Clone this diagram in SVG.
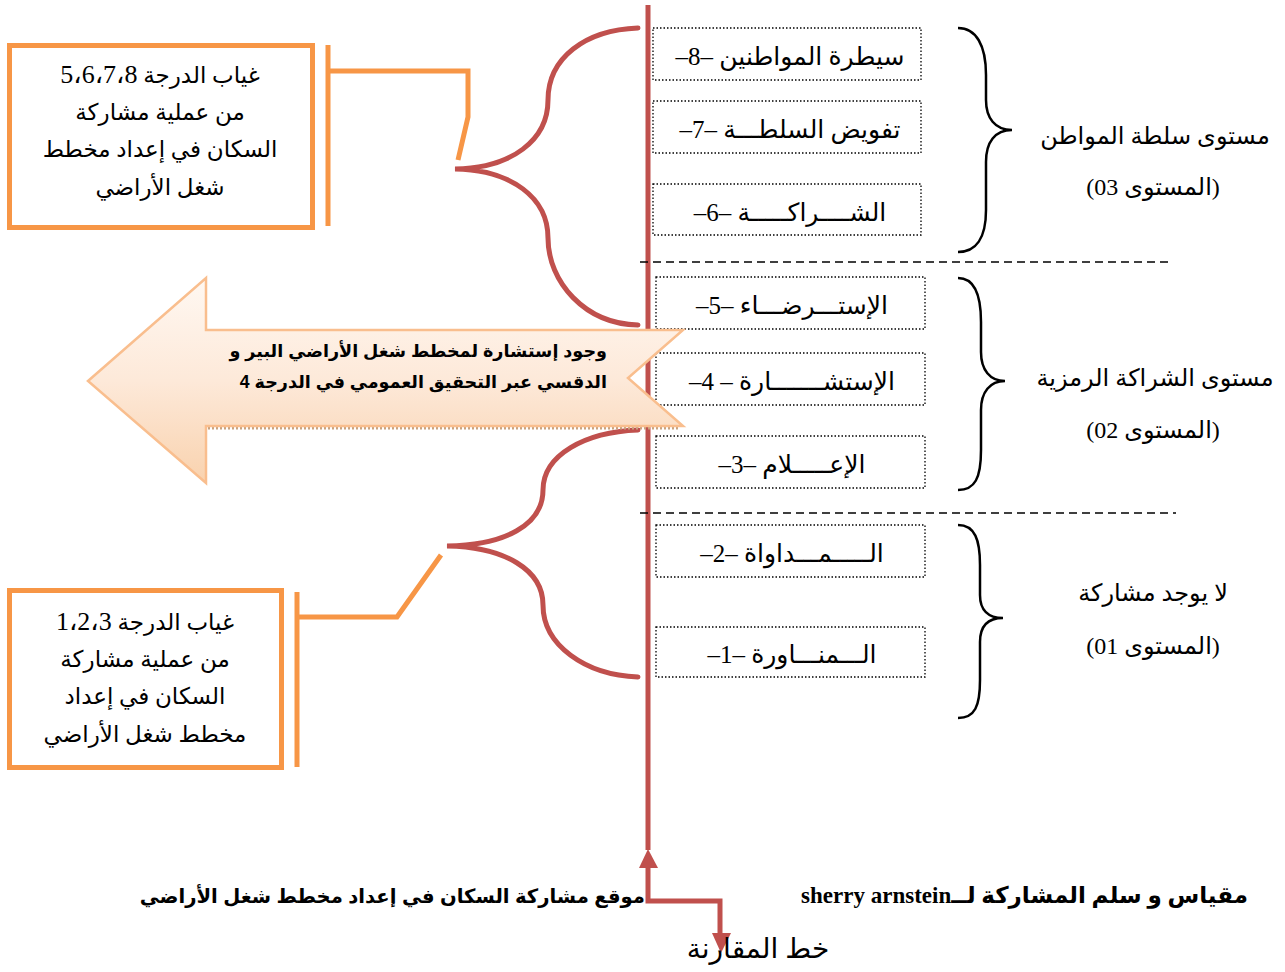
<svg xmlns="http://www.w3.org/2000/svg" width="1285" height="972" viewBox="0 0 1285 972">
  <defs>
    <linearGradient id="arrowFill" x1="0" y1="0" x2="0" y2="1">
      <stop offset="0" stop-color="#FFF8F2"/>
      <stop offset="0.5" stop-color="#FDE9D9"/>
      <stop offset="1" stop-color="#F9D2AE"/>
    </linearGradient>
    <style>
      .rung { fill: none; stroke: #000; stroke-width: 1.3; stroke-dasharray: 1.5 2; }
      .rungText { font-family: "Liberation Serif", "DejaVu Sans", serif; font-size: 25px; fill: #000; direction: rtl; unicode-bidi: embed; text-anchor: middle; }
      .note { font-family: "Liberation Serif", "DejaVu Sans", serif; font-size: 23px; fill: #000; direction: rtl; unicode-bidi: embed; text-anchor: middle; }
      .num { font-size: 26px; }
      .level { font-family: "Liberation Serif", "DejaVu Sans", serif; font-size: 24px; fill: #000; direction: rtl; unicode-bidi: embed; text-anchor: middle; }
      .bold { font-family: "Liberation Sans", "DejaVu Sans", sans-serif; font-weight: bold; font-size: 17.6px; fill: #000; direction: rtl; unicode-bidi: embed; }
      .caption { font-family: "Liberation Sans", "DejaVu Sans", sans-serif; font-weight: bold; font-size: 19.6px; fill: #000; direction: rtl; unicode-bidi: embed; }
      .captionSerif { font-family: "Liberation Serif", "DejaVu Sans", serif; font-weight: bold; font-size: 23px; fill: #000; direction: rtl; unicode-bidi: embed; }
      .redBrace { fill: none; stroke: #C0504D; stroke-width: 5; stroke-linecap: round; }
      .blackBrace { fill: none; stroke: #000; stroke-width: 2.5; }
      .orange { fill: none; stroke: #F79646; stroke-width: 5; }
      .sep { stroke: #000; stroke-width: 1.5; stroke-dasharray: 8 5; }
    </style>
  </defs>

  <!-- connectors: main axis, comparison line, brackets and leaders -->
  <g id="connectors">
    <line x1="648" y1="5" x2="648" y2="850" stroke="#C0504D" stroke-width="5"/>
    <polyline points="648,866 648,901 720,901 720,935" fill="none" stroke="#C0504D" stroke-width="5"/>
    <polygon points="648,849 639,868 658,868" fill="#C0504D"/>
    <polygon points="721,953 712,933 731,933" fill="#C0504D"/>

    <path class="redBrace" d="M638,28 C585,30 548,58 548,100 C548,140 512,168 455,169 C512,170 548,198 548,238 C548,282 585,324 638,325"/>
    <path class="redBrace" d="M638,430 C585,432 543,455 543,490 C543,525 505,545 447,546 C505,547 543,570 543,605 C543,645 585,675 638,677"/>

    <polyline class="orange" points="329,71 468,71 468,117 458,160"/>
    <line class="orange" x1="328" y1="45" x2="328" y2="226"/>
    <polyline class="orange" points="297,617 397,617 441,555"/>
    <line class="orange" x1="297" y1="592" x2="297" y2="767"/>

    <line class="sep" x1="640" y1="262" x2="1172" y2="262"/>
    <line class="sep" x1="640" y1="513" x2="1176" y2="513"/>

    <path class="blackBrace" d="M958,28 C976,28 986,45 986,75 L986,100 C986,118 995,130 1012,130 C995,130 986,142 986,162 L986,210 C986,238 976,252 958,252"/>
    <path class="blackBrace" d="M958,278 C975,278 981,295 981,322 L981,352 C981,370 990,381 1005,381 C990,381 981,392 981,410 L981,450 C981,478 975,490 958,490"/>
    <path class="blackBrace" d="M958,525 C975,525 980,540 980,565 L980,595 C980,610 988,618 1003,618 C988,618 980,626 980,642 L980,680 C980,706 975,718 958,718"/>
  </g>

  <!-- ladder rungs -->
  <g id="rung8"><rect class="rung" x="653" y="28" width="268" height="52"/><text class="rungText" x="790" y="65">سيطرة المواطنين –8–</text></g>
  <g id="rung7"><rect class="rung" x="653" y="101" width="268" height="52"/><text class="rungText" x="790" y="138">تفويض السلطـــة –7–</text></g>
  <g id="rung6"><rect class="rung" x="653" y="184" width="268" height="51"/><text class="rungText" x="790" y="221">الشــــراكـــــة –6–</text></g>
  <g id="rung5"><rect class="rung" x="656" y="277" width="269" height="52"/><text class="rungText" x="792" y="314">الإستـــرضـــاء –5–</text></g>
  <g id="rung4"><rect class="rung" x="656" y="353" width="269" height="52"/><text class="rungText" x="792" y="390">الإستشـــــــارة – 4–</text></g>
  <g id="rung3"><rect class="rung" x="656" y="436" width="269" height="52"/><text class="rungText" x="792" y="473">الإعـــــلام –3–</text></g>
  <g id="rung2"><rect class="rung" x="656" y="525" width="269" height="52"/><text class="rungText" x="792" y="562">الـــــمـــداواة –2–</text></g>
  <g id="rung1"><rect class="rung" x="656" y="627" width="269" height="50"/><text class="rungText" x="792" y="663">الـــمنـــاورة –1–</text></g>

  <!-- level labels -->
  <g id="level3">
    <text class="level" x="1155" y="144">مستوى سلطة المواطن</text>
    <text class="level" x="1153" y="195">(المستوى 03)</text>
  </g>
  <g id="level2">
    <text class="level" x="1155" y="386">مستوى الشراكة الرمزية</text>
    <text class="level" x="1153" y="438">(المستوى 02)</text>
  </g>
  <g id="level1">
    <text class="level" x="1153" y="601">لا يوجد مشاركة</text>
    <text class="level" x="1153" y="654">(المستوى 01)</text>
  </g>

  <!-- upper note box -->
  <g id="noteUpper">
    <rect x="9.5" y="45.5" width="303" height="182" fill="#fff" stroke="#F79646" stroke-width="5"/>
    <text class="note" x="160" y="83">غياب الدرجة <tspan class="num">5،6،7،8</tspan></text>
    <text class="note" x="160" y="120">من عملية  مشاركة</text>
    <text class="note" x="160" y="157">السكان في إعداد مخطط</text>
    <text class="note" x="160" y="195">شغل  الأراضي</text>
  </g>

  <!-- lower note box -->
  <g id="noteLower">
    <rect x="9.5" y="590.5" width="272" height="177" fill="#fff" stroke="#F79646" stroke-width="5"/>
    <text class="note" x="145" y="630">غياب الدرجة <tspan class="num">1،2،3</tspan></text>
    <text class="note" x="145" y="667">من عملية  مشاركة</text>
    <text class="note" x="145" y="704">السكان في إعداد</text>
    <text class="note" x="145" y="742">مخطط شغل الأراضي</text>
  </g>

  <!-- consultation arrow -->
  <g id="consultArrow">
    <line x1="208" y1="428" x2="678" y2="428" stroke="#C9A27E" stroke-width="3" stroke-dasharray="2 2"/>
    <path d="M88,381 L206,278 L206,330 L683,330 L628,378 L683,426 L206,426 L206,483 Z" fill="url(#arrowFill)" stroke="#F9BE8E" stroke-width="2.5" stroke-linejoin="miter"/>
    <text class="bold" x="607" y="357" text-anchor="start">وجود إستشارة لمخطط شغل الأراضي البير و</text>
    <text class="bold" x="607" y="388" text-anchor="start">الدقسي  عبر التحقيق العمومي في الدرجة 4</text>
  </g>

  <!-- captions -->
  <g id="captionLeft"><text class="caption" x="645" y="903" text-anchor="start">موقع مشاركة السكان في إعداد مخطط شغل الأراضي</text></g>
  <g id="captionRight"><text class="captionSerif" x="1248" y="903" text-anchor="start">مقياس و سلم المشاركة لــsherry arnstein</text></g>
  <g id="comparisonLabel"><text class="level" x="758" y="958" style="font-size:28px">خط المقارنة</text></g>
</svg>
